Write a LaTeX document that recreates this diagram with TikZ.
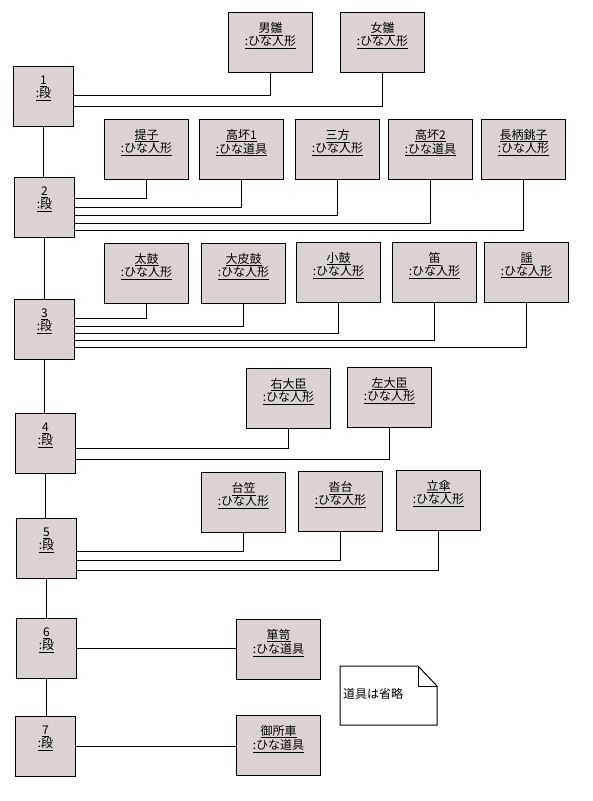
\documentclass[tikz,border=0pt]{standalone}
\usepackage{fontspec}
\setmainfont{Noto Sans CJK JP}
\usetikzlibrary{positioning}
\usetikzlibrary{calc}
\definecolor{boxColor}{RGB}{219,211,209}
\tikzstyle{tierStyle} = [draw=black, fill=boxColor, line width=1pt, anchor=north west, minimum width=60pt, minimum height=60pt, inner sep=0pt]
\tikzstyle{dollStyle} = [tierStyle, minimum width=84pt]
\tikzstyle{nameText} = [font=\fontsize{12}{13}\selectfont, align=center, inner sep=0pt]
\tikzstyle{linkLine} = [color=black, line width=1pt]
\tikzstyle{noteStyle} = [draw=black, fill=white, line width=1pt]
\newcommand{\tierBox}[4]{\node [tierStyle] (#1) at (#2,#3) {}; \node [nameText, below=10pt of #1.north] (#1Name) {\underline{#4}\\\underline{:段}};}
\newcommand{\dollBox}[5]{\node [dollStyle] (#1) at (#2,#3) {}; \node [nameText, below=10pt of #1.north] (#1Name) {\underline{#4}\\\underline{:#5}};}
\newcommand{\link}[3]{\draw [linkLine] ($(#1.east)+(0,#2)$) -| (#3.south);}

\begin{document}
\begin{tikzpicture}[x=1pt, y=-1pt]
  \useasboundingbox (0,0) rectangle (593,801);

  \tierBox{dan1}{13}{66}{1}
  \tierBox{dan2}{14}{177}{2}
  \tierBox{dan3}{14}{299}{3}
  \tierBox{dan4}{15}{413}{4}
  \tierBox{dan5}{16}{518}{5}
  \tierBox{dan6}{16}{618}{6}
  \tierBox{dan7}{15}{716}{7}
  \foreach \upper/\lower in {dan1/dan2, dan2/dan3, dan3/dan4, dan4/dan5, dan5/dan6, dan6/dan7} {
    \draw [linkLine] (\upper.south) -- (\upper.south |- \lower.north);
  }

  % first tier
  \dollBox{obina}{228}{12}{男雛}{ひな人形}
  \dollBox{mebina}{340}{12}{女雛}{ひな人形}
  \link{dan1}{-1.5}{obina}
  \link{dan1}{9.5}{mebina}

  % second tier
  \dollBox{choshi}{104}{119}{提子}{ひな人形}
  \dollBox{takatsukiA}{199}{119}{高坏1}{ひな道具}
  \dollBox{sanbo}{295}{119}{三方}{ひな人形}
  \dollBox{takatsukiB}{388}{119}{高坏2}{ひな道具}
  \dollBox{nagae}{481}{119}{長柄銚子}{ひな人形}
  \link{dan2}{-9}{choshi}
  \link{dan2}{0}{takatsukiA}
  \link{dan2}{8}{sanbo}
  \link{dan2}{16}{takatsukiB}
  \link{dan2}{23}{nagae}

  % third tier
  \dollBox{taiko}{104}{243}{太鼓}{ひな人形}
  \dollBox{okawa}{201}{243}{大皮鼓}{ひな人形}
  \dollBox{kotsuzumi}{296}{242}{小鼓}{ひな人形}
  \dollBox{fue}{392}{242}{笛}{ひな人形}
  \dollBox{utai}{484}{242}{謡}{ひな人形}
  \link{dan3}{-11}{taiko}
  \link{dan3}{-3}{okawa}
  \link{dan3}{4}{kotsuzumi}
  \link{dan3}{11}{fue}
  \link{dan3}{18}{utai}

  % fourth tier
  \dollBox{udaijin}{246}{368}{右大臣}{ひな人形}
  \dollBox{sadaijin}{347}{367}{左大臣}{ひな人形}
  \link{dan4}{5}{udaijin}
  \link{dan4}{16}{sadaijin}

  % fifth tier
  \dollBox{daigasa}{201}{472}{台笠}{ひな人形}
  \dollBox{kutsudai}{298}{471}{沓台}{ひな人形}
  \dollBox{tategasa}{396}{470}{立傘}{ひな人形}
  \link{dan5}{3}{daigasa}
  \link{dan5}{12}{kutsudai}
  \link{dan5}{22}{tategasa}

  % sixth and seventh tier
  \dollBox{tansu}{236}{619}{箪笥}{ひな道具}
  \dollBox{goshoguruma}{236}{715}{御所車}{ひな道具}
  \draw [linkLine] (dan6.east) -- (dan6.east -| tansu.west);
  \draw [linkLine] (dan7.east) -- (dan7.east -| goshoguruma.west);

  % note
  \draw [noteStyle] (340,666) -- (418,666) -- (437,686) -- (437,725) -- (340,725) -- cycle;
  \draw [linkLine] (418,666) |- (437,686);
  \node [nameText, anchor=west] (noteText) at (343,694) {道具は省略};
\end{tikzpicture}
\end{document}
